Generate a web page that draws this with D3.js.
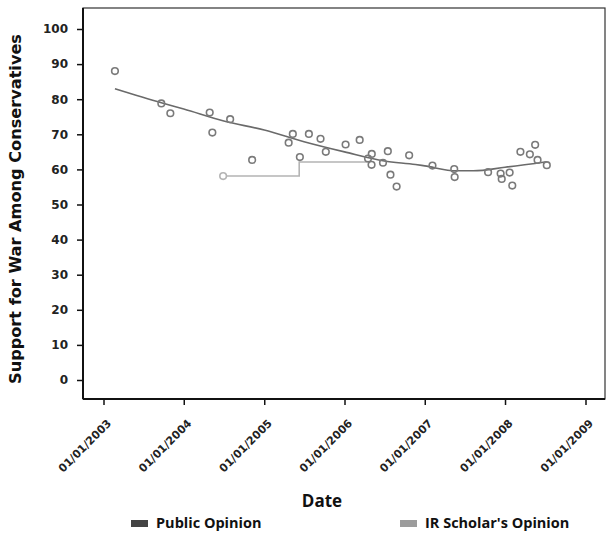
<!DOCTYPE html>
<html>
<head>
<meta charset="utf-8">
<script src="https://cdn.jsdelivr.net/npm/d3@7"></script>
<style>
  body { margin: 0; background: #fff; overflow: hidden; }
  svg { display: block; }
</style>
</head>
<body>
<svg id="chart" width="608" height="533"></svg>
<script>
// public opinion polls (date, % support)
var pollDates = ["2003-02-22","2003-09-21","2003-11-01","2004-04-28","2004-05-10","2004-07-30",
  "2004-11-07","2005-04-22","2005-05-11","2005-06-12","2005-07-23","2005-09-14","2005-10-08",
  "2006-01-06","2006-03-11","2006-04-18","2006-05-05","2006-05-04","2006-06-25","2006-07-17",
  "2006-07-29","2006-08-26","2006-10-22","2007-02-05","2007-05-15","2007-05-17","2007-10-16",
  "2007-12-12","2007-12-17","2008-01-22","2008-02-03","2008-03-11","2008-04-23","2008-05-17",
  "2008-05-28","2008-07-09"];
var pollValues = [88.0,78.8,76.0,76.2,70.5,74.3,
  62.7,67.6,70.1,63.5,70.1,68.7,65.0,
  67.1,68.4,63.1,64.4,61.3,61.9,65.2,
  58.5,55.1,64.0,61.1,60.1,57.8,59.2,
  58.8,57.3,59.1,55.4,65.0,64.3,67.0,
  62.7,61.2];

// smoothed trend of the polls
var trendDates = ["2003-02-22","2003-09-21","2004-01-01","2004-07-01","2005-01-01","2005-07-01",
  "2006-01-01","2006-07-01","2006-11-20","2007-01-01","2007-05-25","2007-08-10","2008-01-01","2008-07-09"];
var trendValues = [83.0,79.0,77.2,73.8,71.2,67.9,65.0,62.4,61.4,61.0,59.6,59.6,60.6,62.2];

// IR scholars' opinion (step line)
var scholarDates = ["2004-06-28","2005-06-09","2006-04-26"];
var scholarValues = [58.1,62.1,62.1];

var yTicks = [0,10,20,30,40,50,60,70,80,90,100];
var xTickYears = [2003,2004,2005,2006,2007,2008,2009];

var parse = d3.timeParse("%Y-%m-%d");
var fmt = d3.timeFormat("%m/%d/%Y");

var polls = pollDates.map(function(d, i) { return { date: parse(d), value: pollValues[i] }; });
var trend = trendDates.map(function(d, i) { return { date: parse(d), value: trendValues[i] }; });
var scholars = scholarDates.map(function(d, i) { return { date: parse(d), value: scholarValues[i] }; });

var plotLeft = 83, plotRight = 605, plotTop = 8, plotBottom = 399;

var x = d3.scaleTime()
  .domain([new Date(2003, 0, 1), new Date(2009, 0, 1)])
  .range([103.5, 585.5]);
var y = d3.scaleLinear()
  .domain([0, 100])
  .range([380, 29]);

var svg = d3.select("#chart");

// frame
svg.append("rect")
  .attr("x", plotLeft).attr("y", plotTop)
  .attr("width", plotRight - plotLeft).attr("height", plotBottom - plotTop)
  .attr("fill", "none")
  .attr("stroke", "#333")
  .attr("stroke-width", 1.2);

// y axis
var yAxis = svg.append("g")
  .attr("transform", "translate(" + plotLeft + ",0)")
  .call(d3.axisLeft(y).tickValues(yTicks).tickSize(6).tickPadding(9));
yAxis.select(".domain").remove();
yAxis.selectAll("line").attr("stroke", "#111").attr("stroke-width", 1.5);
yAxis.selectAll("text")
  .attr("font-family", "DejaVu Sans, Verdana, sans-serif")
  .attr("font-weight", "bold")
  .attr("font-size", 12)
  .attr("fill", "#222");
svg.append("line")
  .attr("x1", plotLeft).attr("x2", plotLeft).attr("y1", plotTop).attr("y2", plotBottom)
  .attr("stroke", "#111").attr("stroke-width", 2);

// x axis
var xAxis = svg.append("g")
  .attr("transform", "translate(0," + plotBottom + ")")
  .call(d3.axisBottom(x)
    .tickValues(xTickYears.map(function(yr) { return new Date(yr, 0, 1); }))
    .tickFormat(fmt)
    .tickSize(6));
xAxis.select(".domain").remove();
xAxis.selectAll("line").attr("stroke", "#111").attr("stroke-width", 1.5);
xAxis.selectAll("text")
  .attr("font-family", "DejaVu Sans, Verdana, sans-serif")
  .attr("font-weight", "bold")
  .attr("font-size", 11)
  .attr("fill", "#222")
  .attr("text-anchor", "end")
  .attr("x", 0).attr("y", 0).attr("dy", 0)
  .attr("transform", "translate(8,25) rotate(-45)");
svg.append("line")
  .attr("x1", plotLeft).attr("x2", plotRight).attr("y1", plotBottom).attr("y2", plotBottom)
  .attr("stroke", "#111").attr("stroke-width", 2);

// IR scholar step line
svg.append("path")
  .datum(scholars)
  .attr("fill", "none")
  .attr("stroke", "#b4b4b4")
  .attr("stroke-width", 1.6)
  .attr("d", d3.line()
    .x(function(d) { return x(d.date); })
    .y(function(d) { return y(d.value); })
    .curve(d3.curveStepAfter));

svg.append("circle")
  .attr("cx", x(scholars[0].date))
  .attr("cy", y(scholars[0].value))
  .attr("r", 3.3)
  .attr("fill", "#fff")
  .attr("stroke", "#b4b4b4")
  .attr("stroke-width", 1.6);

// trend line
svg.append("path")
  .datum(trend)
  .attr("fill", "none")
  .attr("stroke", "#6a6a6a")
  .attr("stroke-width", 1.6)
  .attr("d", d3.line()
    .x(function(d) { return x(d.date); })
    .y(function(d) { return y(d.value); })
    .curve(d3.curveMonotoneX));

// poll points
svg.append("g")
  .selectAll("circle")
  .data(polls)
  .enter()
  .append("circle")
  .attr("cx", function(d) { return x(d.date); })
  .attr("cy", function(d) { return y(d.value); })
  .attr("r", 3.3)
  .attr("fill", "none")
  .attr("stroke", "#7a7a7a")
  .attr("stroke-width", 1.6);

// axis titles
svg.append("text")
  .attr("transform", "translate(21,209) rotate(-90)")
  .attr("text-anchor", "middle")
  .attr("font-family", "DejaVu Sans, Verdana, sans-serif")
  .attr("font-weight", "bold")
  .attr("font-size", 15)
  .attr("textLength", 350)
  .attr("lengthAdjust", "spacingAndGlyphs")
  .attr("fill", "#111")
  .text("Support for War Among Conservatives");

svg.append("text")
  .attr("x", 322).attr("y", 507)
  .attr("text-anchor", "middle")
  .attr("font-family", "Open Sans, sans-serif")
  .attr("font-weight", "bold")
  .attr("font-size", 17)
  .attr("fill", "#111")
  .text("Date");

// legend
var legendNames = ["Public Opinion", "IR Scholar's Opinion"];
var legendColors = ["#444", "#9c9c9c"];
var legendX = [131, 400];
var legend = svg.append("g").selectAll("g")
  .data(legendNames)
  .enter()
  .append("g")
  .attr("transform", function(d, i) { return "translate(" + legendX[i] + ",0)"; });
legend.append("rect")
  .attr("x", 0).attr("y", 520)
  .attr("width", 17).attr("height", 7)
  .attr("fill", function(d, i) { return legendColors[i]; });
legend.append("text")
  .attr("x", 25).attr("y", 528)
  .attr("font-family", "Open Sans, sans-serif")
  .attr("font-weight", "bold")
  .attr("font-size", 14.5)
  .attr("fill", "#111")
  .text(function(d) { return d; });
</script>
</body>
</html>
